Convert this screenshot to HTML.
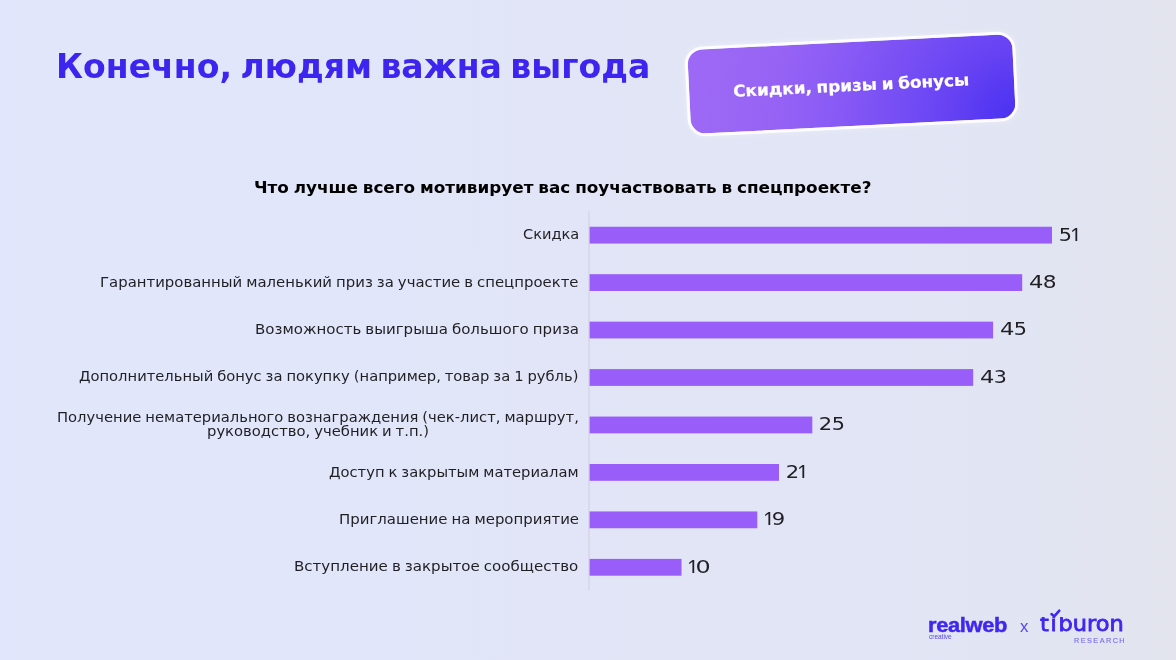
<!DOCTYPE html>
<html lang="ru">
<head>
<meta charset="utf-8">
<title>Конечно, людям важна выгода</title>
<style>
html,body{margin:0;padding:0}
body{width:1176px;height:660px;overflow:hidden;position:relative;background:linear-gradient(90deg,#e1e6fc 0%,#e1e6fa 25%,#e2e5f7 50%,#e1e5f5 77%,#e2e4f0 95%,#e3e4ee 100%);font-family:'DejaVu Sans', 'Liberation Sans', sans-serif}
.t{position:absolute;display:block;white-space:nowrap;line-height:1;margin:0;padding:0;transform-origin:0 50%}
.bar{position:absolute;left:0;top:0;width:100px;height:10px;background:#995df9;transform-origin:0 0}
.axis{position:absolute;left:0;top:0;width:1px;height:100px;background:#cfd0dc;transform-origin:0 0;transform:translate(588.5px,211.2px) scaleY(3.793)}
.badge{position:absolute;left:685.80px;top:39.40px;width:330.6px;height:89.7px;box-sizing:border-box;border:3.0px solid #fdfcff;border-radius:18px;background:radial-gradient(circle at 100% 100%,#482df1 0,#5035f2 21px,#6843f3 76px,#6c47f4 91px,#754df4 117px,#8356f5 166px,#885af5 181px,#9562f5 240px,#9763f4 251px,#9c68f5 315px);background-origin:border-box;transform:rotate(-2.85deg);box-shadow:0 0 6px rgba(255,255,255,.35)}
.g{display:inline-block;line-height:1;vertical-align:baseline;white-space:nowrap;transform-origin:0 50%}
.tick{position:absolute;left:1048px;top:607px;width:16px;height:12px;overflow:visible}
.title{font-family:'DejaVu Sans', 'Liberation Sans', sans-serif;font-size:32.8px;font-weight:700;color:#3d25ef;word-spacing:-3px}
.sub{font-family:'DejaVu Sans', 'Liberation Sans', sans-serif;font-size:16.4px;font-weight:700;color:#000;word-spacing:-1px}
.lab{font-family:'DejaVu Sans', 'Liberation Sans', sans-serif;font-size:14.3px;font-weight:400;color:#1f1f24;word-spacing:-0.7px}
.dig{font-family:'DejaVu Sans', 'Liberation Sans', sans-serif;font-size:18.1px;font-weight:400;color:#1f1f24}
.one{font-family:'Liberation Sans', 'DejaVu Sans', sans-serif;font-size:18.4px;font-weight:400;color:#1f1f24}
.btxt{font-family:'DejaVu Sans', 'Liberation Sans', sans-serif;font-size:16.0px;font-weight:700;color:#ffffff;word-spacing:-1px;-webkit-text-stroke:0.25px #fff}
.rw{font-family:'Liberation Sans', 'DejaVu Sans', sans-serif;font-size:19.6px;font-weight:700;color:#3f26f0;letter-spacing:-0.3px;-webkit-text-stroke:0.45px #3f26f0}
.rwc{font-family:'Liberation Sans', 'DejaVu Sans', sans-serif;font-size:6.4px;font-weight:400;color:#5a46ea}
.lx{font-family:'Liberation Sans', 'DejaVu Sans', sans-serif;font-size:17px;font-weight:400;color:#5a46ee}
.tib{font-family:'DejaVu Sans', 'Liberation Sans', sans-serif;font-size:21px;font-weight:400;color:#3f26f0;-webkit-text-stroke:0.8px #3f26f0}
.ti{letter-spacing:1.6px}
.res{font-family:'Liberation Sans', 'DejaVu Sans', sans-serif;font-size:6.7px;font-weight:400;color:#7d70ea;letter-spacing:1.35px;-webkit-text-stroke:0.15px #7d70ea}
.one{transform-origin:0 5.81px;clip-path:inset(0 -9px 4.84px -9px)}
</style>
</head>
<body>
<header>
<h1 class="t title" style="left:56.11px;top:50.50px;transform:scaleX(1.0091)">Конечно, людям важна выгода</h1>
<div class="badge"><span class="t btxt" style="left:44.46px;top:35.62px;transform:scaleX(1.0501)">Скидки, призы и бонусы</span></div>
</header>
<main>
<h2 class="t sub" style="left:254.48px;top:179.60px;transform:scaleX(1.0270)">Что лучше всего мотивирует вас поучаствовать в спецпроекте?</h2>
<div class="axis"></div>
<section class="row">
<div class="label"><span class="t lab" style="left:522.72px;top:227.40px;transform:scaleX(1.0194)">Скидка</span></div>
<div class="bar" style="transform:translate(589.6px,226.75px) scale(4.6240,1.680)"></div>
<div class="t dig" style="left:1060.00px;top:225.55px"><span class="g" style="width:12.30px;transform:translateX(-1.30px) scaleX(1.1492)">5</span><span class="g one" style="width:5.20px;transform:translateX(-1.74px) scale(1.1126,1.1850)">1</span></div>
</section>
<section class="row">
<div class="label"><span class="t lab" style="left:100.00px;top:274.50px;transform:scaleX(1.0410)">Гарантированный маленький приз за участие в спецпроекте</span></div>
<div class="bar" style="transform:translate(589.6px,274.20px) scale(4.3260,1.680)"></div>
<div class="t dig" style="left:1029.70px;top:273.00px"><span class="g" style="width:14.00px;transform:translateX(-1.06px) scaleX(1.2527)">4</span><span class="g" style="width:11.20px;transform:translateX(-1.36px) scaleX(1.2001)">8</span></div>
</section>
<section class="row">
<div class="label"><span class="t lab" style="left:254.89px;top:322.30px;transform:scaleX(1.0493)">Возможность выигрыша большого приза</span></div>
<div class="bar" style="transform:translate(589.6px,321.65px) scale(4.0350,1.680)"></div>
<div class="t dig" style="left:1000.80px;top:320.45px"><span class="g" style="width:14.20px;transform:translateX(-1.06px) scaleX(1.2527)">4</span><span class="g" style="width:10.40px;transform:translateX(-1.30px) scaleX(1.1492)">5</span></div>
</section>
<section class="row">
<div class="label"><span class="t lab" style="left:79.41px;top:369.40px;transform:scaleX(1.0291)">Дополнительный бонус за покупку (например, товар за 1 рубль)</span></div>
<div class="bar" style="transform:translate(589.6px,369.10px) scale(3.8360,1.680)"></div>
<div class="t dig" style="left:981.00px;top:367.90px"><span class="g" style="width:13.90px;transform:translateX(-1.06px) scaleX(1.2527)">4</span><span class="g" style="width:10.30px;transform:translateX(-1.29px) scaleX(1.1381)">3</span></div>
</section>
<section class="row">
<div class="label"><span class="t lab" style="left:57.12px;top:410.40px;transform:scaleX(1.0314)">Получение нематериального вознаграждения (чек-лист, маршрут,</span> <span class="t lab" style="left:206.55px;top:424.30px;transform:scaleX(1.0335)">руководство, учебник и т.п.)</span></div>
<div class="bar" style="transform:translate(589.6px,416.55px) scale(2.2270,1.680)"></div>
<div class="t dig" style="left:820.00px;top:415.35px"><span class="g" style="width:12.90px;transform:translateX(-1.32px) scaleX(1.1634)">2</span><span class="g" style="width:10.40px;transform:translateX(-1.30px) scaleX(1.1492)">5</span></div>
</section>
<section class="row">
<div class="label"><span class="t lab" style="left:329.41px;top:464.90px;transform:scaleX(1.0298)">Доступ к закрытым материалам</span></div>
<div class="bar" style="transform:translate(589.6px,464.00px) scale(1.8940,1.680)"></div>
<div class="t dig" style="left:786.50px;top:462.80px"><span class="g" style="width:12.30px;transform:translateX(-1.32px) scaleX(1.1634)">2</span><span class="g one" style="width:5.20px;transform:translateX(-1.74px) scale(1.1126,1.1850)">1</span></div>
</section>
<section class="row">
<div class="label"><span class="t lab" style="left:338.50px;top:512.10px;transform:scaleX(1.0447)">Приглашение на мероприятие</span></div>
<div class="bar" style="transform:translate(589.6px,511.45px) scale(1.6770,1.680)"></div>
<div class="t dig" style="left:764.70px;top:510.25px"><span class="g one" style="width:8.00px;transform:translateX(-1.74px) scale(1.1126,1.1850)">1</span><span class="g" style="width:10.90px;transform:translateX(-1.32px) scaleX(1.1679)">9</span></div>
</section>
<section class="row">
<div class="label"><span class="t lab" style="left:294.19px;top:559.40px;transform:scaleX(1.0523)">Вступление в закрытое сообщество</span></div>
<div class="bar" style="transform:translate(589.6px,558.90px) scale(0.9190,1.680)"></div>
<div class="t dig" style="left:689.00px;top:557.70px"><span class="g one" style="width:8.20px;transform:translateX(-1.74px) scale(1.1126,1.1850)">1</span><span class="g" style="width:12.30px;transform:translateX(-1.49px) scaleX(1.3179)">0</span></div>
</section>
</main>
<footer>
<div class="logo-rw"><span class="t rw" style="left:928.23px;top:615.70px;transform:scaleX(1.1150)">realweb</span><span class="t rwc" style="left:929.35px;top:634.10px;transform:scaleX(1.0137)">creative</span></div>
<span class="t lx" style="left:1019.80px;top:618.00px;transform:scaleX(0.9882)">x</span>
<div class="logo-tib"><span class="t tib" style="left:1040.20px;top:613.80px;transform:scaleX(1.0694);clip-path:inset(3.30px 0 0 0)"><span class="ti">ti</span>buron</span>
<svg class="tick" viewBox="0 0 16 12"><path d="M3.5 7.0 L6.2 9.4 L11.3 3.6" fill="none" stroke="#3f26f0" stroke-width="2.5" stroke-linecap="round" stroke-linejoin="miter"/></svg>
<span class="t res" style="left:1073.80px;top:637.80px;transform:scaleX(1.0857)">RESEARCH</span></div>
</footer>
</body>
</html>
